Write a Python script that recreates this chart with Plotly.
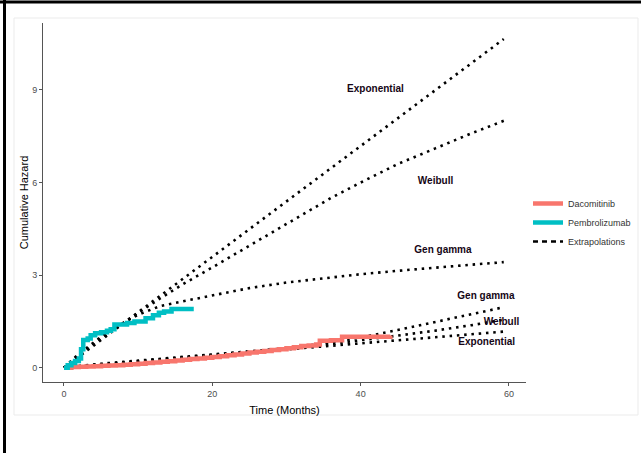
import plotly.graph_objects as go

# Kaplan-Meier style cumulative hazard (observed)
daco_t = [0, 1, 2, 3, 4, 5, 6, 7, 8, 9, 10, 11, 12, 13, 14, 15, 16, 17, 18, 19, 20,
          21, 22, 23, 24, 25, 26, 27, 28, 29, 30, 31, 32, 33, 34, 34.5, 36, 37.5, 44]
daco_h = [0, 0.02, 0.03, 0.04, 0.05, 0.06, 0.07, 0.08, 0.1, 0.11, 0.13, 0.15, 0.17, 0.19,
          0.21, 0.23, 0.26, 0.28, 0.3, 0.32, 0.35, 0.37, 0.4, 0.43, 0.46, 0.49, 0.52, 0.54,
          0.57, 0.6, 0.63, 0.66, 0.7, 0.72, 0.75, 0.87, 0.89, 1.0, 1.04]

pem_t = [0, 0.5, 1, 1.5, 2.0, 2.3, 2.6, 3.2, 3.6, 4.2, 5, 5.8, 6.3, 6.8, 8.5, 9.5, 10.5,
         11, 12, 12.8, 13.5, 14.5, 17.5]
pem_h = [0, 0.08, 0.15, 0.22, 0.3, 0.6, 0.9, 0.95, 1.05, 1.12, 1.15, 1.2, 1.25, 1.4, 1.45,
         1.5, 1.5, 1.6, 1.7, 1.78, 1.82, 1.9, 1.9]

# Extrapolations - Pembrolizumab
ext_t = [0, 2, 5, 8, 10, 13, 16, 20, 25, 30, 36, 40, 45, 50, 55, 59.3]
pem_exp = [0, 0.36, 0.9, 1.44, 1.8, 2.34, 2.87, 3.59, 4.49, 5.39, 6.47, 7.18, 8.08, 8.98, 9.88, 10.65]
pem_wei = [0, 0.4, 0.95, 1.45, 1.78, 2.25, 2.7, 3.25, 3.95, 4.65, 5.5, 6.0, 6.6, 7.1, 7.6, 8.0]
pem_gg = [0, 0.45, 1.0, 1.45, 1.72, 2.0, 2.15, 2.35, 2.58, 2.76, 2.93, 3.03, 3.14, 3.25, 3.34, 3.42]

# Extrapolations - Dacomitinib
daco_exp = [0, 0.04, 0.1, 0.16, 0.2, 0.26, 0.32, 0.4, 0.5, 0.59, 0.71, 0.79, 0.89, 0.99, 1.09, 1.17]
daco_wei = [0, 0.05, 0.11, 0.17, 0.21, 0.28, 0.34, 0.42, 0.52, 0.62, 0.77, 0.88, 1.04, 1.2, 1.38, 1.56]
daco_gg = [0, 0.06, 0.13, 0.19, 0.23, 0.29, 0.35, 0.42, 0.52, 0.63, 0.82, 0.98, 1.22, 1.48, 1.72, 1.96]

labels = ["Exponential", "Weibull", "Gen gamma", "Gen gamma", "Weibull", "Exponential"]
label_t = [42.0, 50.1, 51.1, 56.9, 59.0, 57.0]
label_h = [9.03, 6.05, 3.80, 2.31, 1.45, 0.83]

x_ticks = [0, 20, 40, 60]
y_ticks = [0, 3, 6, 9]

RED = "#F8766D"
TEAL = "#00BFC4"
DOT = "2.5px,4.8px"

fig = go.Figure()

ext_sets = [pem_exp, pem_wei, pem_gg, daco_exp, daco_wei, daco_gg]
for i, ys in enumerate(ext_sets):
    fig.add_trace(go.Scatter(
        x=ext_t, y=ys, mode="lines",
        line=dict(color="black", width=2.6, dash=DOT),
        name="Extrapolations", legendgroup="ext", showlegend=False,
        hoverinfo="skip"))

fig.add_trace(go.Scatter(x=daco_t, y=daco_h, mode="lines", name="Dacomitinib",
                         line=dict(color=RED, width=4.5, shape="hv"), legendrank=1))
fig.add_trace(go.Scatter(x=pem_t, y=pem_h, mode="lines", name="Pembrolizumab",
                         line=dict(color=TEAL, width=4.5, shape="hv"), legendrank=2))
# legend entry for extrapolations
fig.add_trace(go.Scatter(x=[None], y=[None], mode="lines", name="Extrapolations",
                         line=dict(color="black", width=2.6, dash="5px,4px"), legendrank=3))

fig.add_trace(go.Scatter(x=label_t, y=label_h, mode="text", text=[f"<b>{s}</b>" for s in labels],
                         textfont=dict(family="Liberation Sans, Arial", size=10, color="#150515"),
                         textposition="middle center", showlegend=False, hoverinfo="skip"))

W, H = 641, 453
L, R, T, B = 43, 526, 23, 382

def px(x):
    return (x - L) / (R - L)

def py(y):
    return (B - y) / (B - T)

shapes = [
    # outer light grey panel border
    dict(type="rect", xref="paper", yref="paper", x0=px(14), x1=px(638), y0=py(415), y1=py(18),
         line=dict(color="#ebebeb", width=1), layer="below"),
    # black frame lines (top, left)
    dict(type="line", xref="paper", yref="paper", x0=px(0), x1=px(641), y0=py(2), y1=py(2),
         line=dict(color="black", width=3)),
    dict(type="line", xref="paper", yref="paper", x0=px(4.5), x1=px(4.5), y0=py(0), y1=py(453),
         line=dict(color="black", width=3)),
]

fig.update_layout(
    width=W, height=H,
    margin=dict(l=L, r=W - R, t=T, b=H - B, pad=0, autoexpand=False),
    plot_bgcolor="white", paper_bgcolor="white",
    font=dict(family="Liberation Sans, Arial", size=9, color="#4d4d4d"),
    shapes=shapes,
    showlegend=True,
    legend=dict(x=px(528), y=py(189), xanchor="left", yanchor="top",
                font=dict(size=9, color="#333333"), bgcolor="rgba(0,0,0,0)",
                itemwidth=30, tracegroupgap=0, traceorder="normal"),
    xaxis=dict(range=[-2.83, 62.3], tickvals=x_ticks, ticks="outside", ticklen=3,
               tickcolor="#555555", showline=True, linecolor="#555555", linewidth=1,
               showgrid=False, zeroline=False, tickfont=dict(size=9, color="#4d4d4d"),
               title=dict(text="Time (Months)", font=dict(size=11, color="black"), standoff=8)),
    yaxis=dict(range=[-0.463, 11.17], tickvals=y_ticks, ticks="outside", ticklen=3,
               tickcolor="#555555", showline=True, linecolor="#555555", linewidth=1,
               showgrid=False, zeroline=False, tickfont=dict(size=9, color="#4d4d4d"),
               title=dict(text="Cumulative Hazard", font=dict(size=11, color="black"), standoff=1)),
)

fig.write_html("out.html", config={"displayModeBar": False},
               post_script="document.body.style.margin='0';document.body.style.padding='0';")
